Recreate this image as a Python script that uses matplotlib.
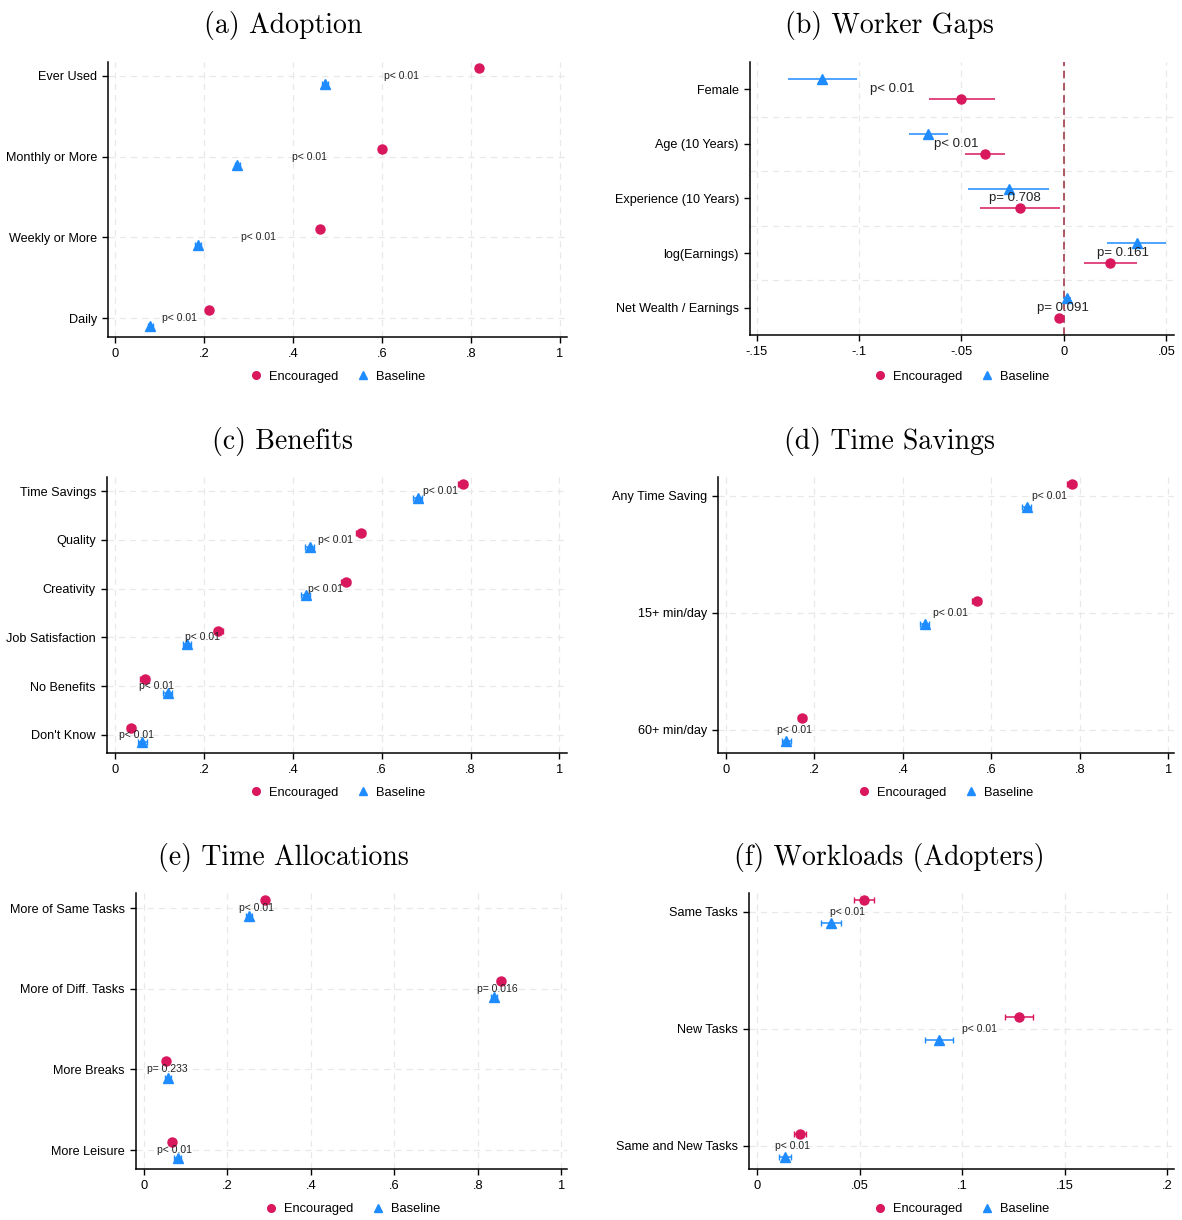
import numpy as np
import matplotlib
matplotlib.use("Agg")
import matplotlib.pyplot as plt
from matplotlib.lines import Line2D

plt.rcParams['font.family'] = ['Liberation Sans', 'DejaVu Sans']

ENC_COL = '#D8175C'
BASE_COL = '#1E8CFF'

# (a) Adoption
a_cats = ['Ever Used', 'Monthly or More', 'Weekly or More', 'Daily']
a_enc = [0.818, 0.600, 0.461, 0.211]
a_base = [0.472, 0.275, 0.186, 0.079]
a_p = ['p< 0.01', 'p< 0.01', 'p< 0.01', 'p< 0.01']

# (b) Worker Gaps
b_cats = ['Female', 'Age (10 Years)', 'Experience (10 Years)', 'log(Earnings)',
          'Net Wealth / Earnings']
b_enc = [-0.050, -0.0385, -0.0215, 0.0225, -0.0024]
b_enc_lo = [-0.066, -0.0483, -0.041, 0.0098, -0.0045]
b_enc_hi = [-0.0337, -0.0288, -0.002, 0.0356, -0.0003]
b_base = [-0.118, -0.0663, -0.0268, 0.0356, 0.0015]
b_base_lo = [-0.1346, -0.0756, -0.0468, 0.021, -0.0005]
b_base_hi = [-0.101, -0.0566, -0.0073, 0.0498, 0.0035]
b_p = ['p< 0.01', 'p< 0.01', 'p= 0.708', 'p= 0.161', 'p= 0.091']

# (c) Benefits
c_cats = ['Time Savings', 'Quality', 'Creativity', 'Job Satisfaction',
          'No Benefits', "Don't Know"]
c_enc = [0.782, 0.553, 0.519, 0.232, 0.067, 0.036]
c_base = [0.681, 0.438, 0.429, 0.162, 0.119, 0.061]
c_p = ['p< 0.01'] * 6

# (d) Time Savings
d_cats = ['Any Time Saving', '15+ min/day', '60+ min/day']
d_enc = [0.782, 0.567, 0.172]
d_base = [0.680, 0.449, 0.136]
d_p = ['p< 0.01'] * 3

# (e) Time Allocations
e_cats = ['More of Same Tasks', 'More of Diff. Tasks', 'More Breaks', 'More Leisure']
e_enc = [0.290, 0.855, 0.053, 0.067]
e_base = [0.252, 0.839, 0.058, 0.081]
e_p = ['p< 0.01', 'p= 0.016', 'p= 0.233', 'p< 0.01']

# (f) Workloads (Adopters)
f_cats = ['Same Tasks', 'New Tasks', 'Same and New Tasks']
f_enc = [0.0522, 0.1278, 0.021]
f_enc_lo = [0.0473, 0.121, 0.018]
f_enc_hi = [0.0571, 0.1348, 0.024]
f_base = [0.036, 0.0888, 0.0137]
f_base_lo = [0.031, 0.0818, 0.0108]
f_base_hi = [0.041, 0.0958, 0.0168]
f_p = ['p< 0.01'] * 3

W, H = 1182, 1220
fig = plt.figure(figsize=(W / 100, H / 100), dpi=100)


def add_ax(l, r, t, b):
    return fig.add_axes([l / W, 1 - b / H, (r - l) / W, (b - t) / H])


def panel(ax, cats, enc, base, plabels, xticks, xticklabels, xlim, top_m, bot_m,
          off, enc_lo=None, enc_hi=None, base_lo=None, base_hi=None,
          ci=0.006, cap=2, psize=7.5, enc_first=True, midgrid=False):
    n = len(cats)
    y = np.arange(n)
    enc = np.array(enc)
    base = np.array(base)
    if enc_lo is None:
        enc_lo, enc_hi = enc - ci, enc + ci
        base_lo, base_hi = base - ci, base + ci
    enc_err = [enc - np.array(enc_lo), np.array(enc_hi) - enc]
    base_err = [base - np.array(base_lo), np.array(base_hi) - base]
    s = -1 if enc_first else 1
    ax.errorbar(enc, y + s * off, xerr=enc_err, fmt='o', color=ENC_COL, ms=6.5,
                elinewidth=1.1, capsize=cap, capthick=1.0, zorder=3)
    ax.errorbar(base, y - s * off, xerr=base_err, fmt='^', color=BASE_COL, ms=6.5,
                elinewidth=1.1, capsize=cap, capthick=1.0, zorder=3)
    for i in range(n):
        ax.text((enc[i] + base[i]) / 2, y[i], plabels[i], ha='center', va='center',
                fontsize=psize, color='#222222', zorder=4)
    ax.set_yticks(y)
    ax.set_yticklabels(cats, fontsize=9.1)
    ax.set_xticks(xticks)
    ax.set_xticklabels(xticklabels, fontsize=9.3)
    ax.set_xlim(*xlim)
    ax.set_ylim(n - 1 + bot_m, -top_m)
    for sp in ['top', 'right']:
        ax.spines[sp].set_visible(False)
    for sp in ['left', 'bottom']:
        ax.spines[sp].set_linewidth(1.1)
    ax.tick_params(length=4.5, width=1, colors='black', pad=3.5)
    for xv in xticks:
        ax.axvline(xv, color='#e8e8e8', lw=0.9, ls=(0, (5, 4)), zorder=0)
    gy = np.arange(n - 1) + 0.5 if midgrid else y
    for yv in gy:
        ax.axhline(yv, color='#e8e8e8', lw=0.9, ls=(0, (5, 4)), zorder=0)


def legend_at(cx, cy):
    handles = [Line2D([], [], marker='o', ls='none', color=ENC_COL, ms=5.5),
               Line2D([], [], marker='^', ls='none', color=BASE_COL, ms=5.5)]
    fig.legend(handles, ['Encouraged', 'Baseline'], loc='center',
               bbox_to_anchor=(cx / W, 1 - cy / H), ncol=2, frameon=False,
               fontsize=9.3, handletextpad=0.4, columnspacing=1.3,
               handlelength=1.2)


def title_at(cx, cy, txt):
    fig.text(cx / W, 1 - cy / H, txt, ha='center', va='center', fontsize=20,
             family=['cmr10', 'DejaVu Serif'])


t01 = [0, 0.2, 0.4, 0.6, 0.8, 1]
l01 = ['0', '.2', '.4', '.6', '.8', '1']

ax = add_ax(108, 567, 62, 337)
panel(ax, a_cats, a_enc, a_base, a_p, t01, l01, (-0.016, 1.016), 0.173, 0.235, 0.1)
title_at(283, 26, '(a) Adoption')
legend_at(337, 377)

ax = add_ax(750, 1174, 62, 335)
panel(ax, b_cats, b_enc, b_base, b_p, [-0.15, -0.1, -0.05, 0, 0.05],
      ['-.15', '-.1', '-.05', '0', '.05'], (-0.1532, 0.0537), 0.5, 0.5, 0.18,
      enc_lo=b_enc_lo, enc_hi=b_enc_hi, base_lo=b_base_lo, base_hi=b_base_hi,
      cap=0, psize=9.5, enc_first=False, midgrid=True)
ax.axvline(0, color='#9b2a3a', lw=1.1, ls=(0, (5, 3)), zorder=2)
title_at(889, 26, '(b) Worker Gaps')
legend_at(961, 377)

ax = add_ax(107, 567, 477, 753)
panel(ax, c_cats, c_enc, c_base, c_p, t01, l01, (-0.018, 1.017), 0.29, 0.37, 0.14,
      ci=0.01)
title_at(283, 442, '(c) Benefits')
legend_at(337, 793)

ax = add_ax(718, 1174, 477, 753)
panel(ax, d_cats, d_enc, d_base, d_p, t01, l01, (-0.018, 1.013), 0.16, 0.2, 0.1,
      ci=0.01)
title_at(889, 442, '(d) Time Savings')
legend_at(945, 793)

ax = add_ax(136, 567, 893, 1169)
panel(ax, e_cats, e_enc, e_base, e_p, t01, l01, (-0.019, 1.014), 0.19, 0.235, 0.1,
      ci=0.008)
title_at(283, 858, '(e) Time Allocations')
legend_at(352, 1209)

ax = add_ax(749, 1174, 893, 1169)
panel(ax, f_cats, f_enc, f_base, f_p, [0, 0.05, 0.1, 0.15, 0.2],
      ['0', '.05', '.1', '.15', '.2'], (-0.0039, 0.2034), 0.16, 0.2, 0.1,
      enc_lo=f_enc_lo, enc_hi=f_enc_hi, base_lo=f_base_lo, base_hi=f_base_hi,
      cap=2.5)
title_at(889, 858, '(f) Workloads (Adopters)')
legend_at(961, 1209)

fig.savefig('out.png', dpi=100)
